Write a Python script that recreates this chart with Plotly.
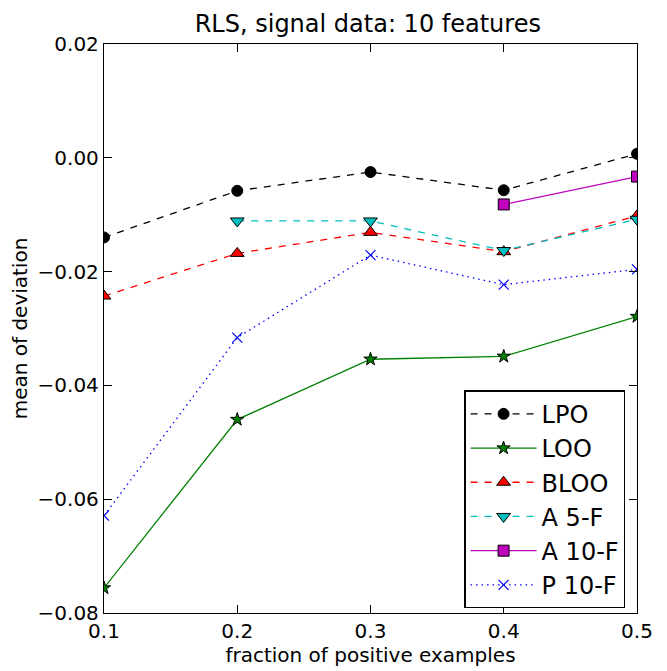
import plotly.graph_objects as go

x = [0.1, 0.2, 0.3, 0.4, 0.5]
lpo = [-0.0140, -0.0058, -0.0025, -0.0057, 0.0007]
loo = [-0.0756, -0.0460, -0.0354, -0.0349, -0.0279]
bloo = [-0.0243, -0.0168, -0.0131, -0.0165, -0.0102]
a5f_x = [0.2, 0.3, 0.4, 0.5]
a5f = [-0.0111, -0.0111, -0.0163, -0.0108]
a10f_x = [0.4, 0.5]
a10f = [-0.0082, -0.0033]
p10f = [-0.0629, -0.0316, -0.0171, -0.0223, -0.0196]

xticks = [0.1, 0.2, 0.3, 0.4, 0.5]
xtick_text = ["0.1", "0.2", "0.3", "0.4", "0.5"]
yticks = [0.02, 0.00, -0.02, -0.04, -0.06, -0.08]
ytick_text = ["0.02", "0.00", "\u22120.02", "\u22120.04", "\u22120.06", "\u22120.08"]

font = "DejaVu Sans, Liberation Sans, sans-serif"

fig = go.Figure()

def add(name, xs, ys, color, dash, symbol, msize, mcolor, mline_color, mline_w, lw=1.3):
    fig.add_trace(go.Scatter(
        x=xs, y=ys, name=name, mode="lines+markers",
        line=dict(color=color, dash=dash, width=lw),
        marker=dict(symbol=symbol, size=msize, color=mcolor,
                    line=dict(color=mline_color, width=mline_w)),
    ))

add("LPO", x, lpo, "black", "7px,7px", "circle", 11, "black", "black", 1)
add("LOO", x, loo, "#008000", "solid", "star", 10, "#008000", "black", 1)
add("BLOO", x, bloo, "red", "7px,7px", "triangle-up", 12, "red", "black", 1)
add("A 5-F", a5f_x, a5f, "#00bfbf", "7px,7px", "triangle-down", 12, "#00bfbf", "black", 1)
add("A 10-F", a10f_x, a10f, "#bf00bf", "solid", "square", 11, "#bf00bf", "black", 1)
add("P 10-F", x, p10f, "blue", "1.5px,4px", "x-thin", 10, "blue", "blue", 1.2)

# page body has an 8px default margin, so the figure is sized to fit the window
fig.update_layout(
    width=659, height=663,
    margin=dict(l=91, r=30, t=36, b=41),
    paper_bgcolor="white", plot_bgcolor="white",
    font=dict(family=font, size=20, color="black"),
    title=dict(text="RLS, signal data: 10 features", x=0.546, xanchor="center",
               y=0.977, yanchor="middle", font=dict(size=24)),
    showlegend=True,
    legend=dict(x=0.978, y=0.008, xanchor="right", yanchor="bottom",
                bgcolor="white", bordercolor="black", borderwidth=1.3,
                font=dict(size=24), itemwidth=66),
)
fig.update_xaxes(
    range=[0.1, 0.5], tickvals=xticks, ticktext=xtick_text,
    ticks="inside", ticklen=8, tickcolor="black", mirror="ticks",
    showline=True, linecolor="black", linewidth=1.3, showgrid=False, zeroline=False,
    title=dict(text="fraction of positive examples", font=dict(size=20), standoff=2),
)
fig.update_yaxes(
    range=[-0.08, 0.02], tickvals=yticks, ticktext=ytick_text,
    ticks="inside", ticklen=8, tickcolor="black", mirror="ticks",
    showline=True, linecolor="black", linewidth=1.3, showgrid=False, zeroline=False,
    title=dict(text="mean of deviation", font=dict(size=20), standoff=4),
)

fig.write_html("out.html")
